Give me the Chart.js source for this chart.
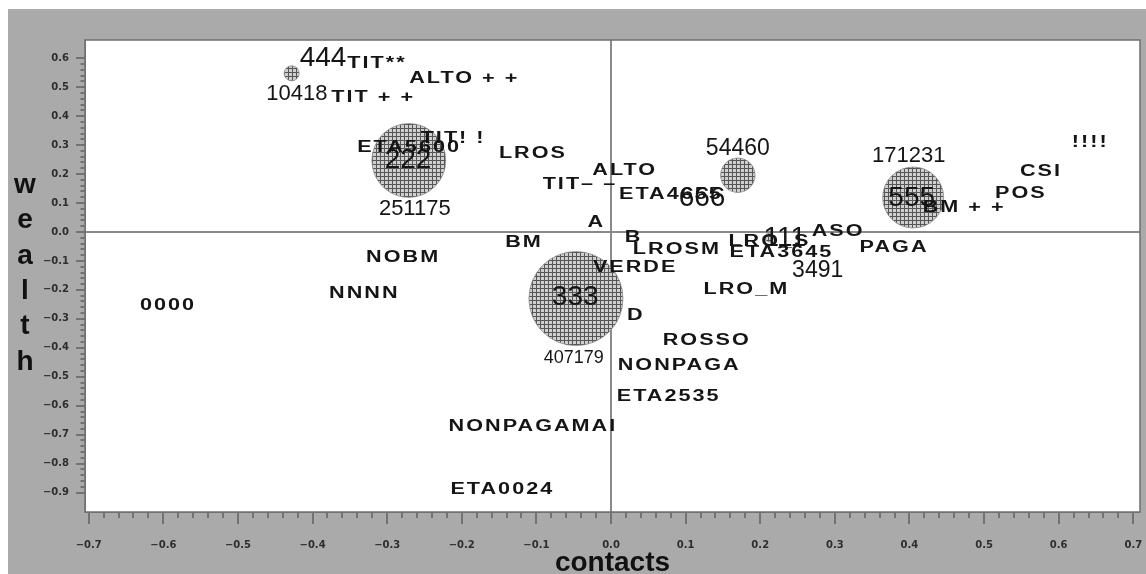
<!DOCTYPE html>
<html>
<head>
<meta charset="utf-8">
<script src="https://cdn.jsdelivr.net/npm/chart.js@4.4.1/dist/chart.umd.min.js"></script>
<style>
html,body{margin:0;padding:0;background:#fff;overflow:hidden}
#wrap{width:1146px;height:574px;position:relative}
</style>
</head>
<body>
<div id="wrap"><canvas id="c" width="1146" height="574"></canvas></div>
<script>
// ---------------- data ----------------
const catLabels = ['TIT**','ALTO + +','TIT + +','ETA5600','TIT! !','LROS','ALTO','TIT\u2013 \u2013','ETA4655','A','B','BM','NOBM','NNNN','0000','LROSM','LRO_S','ETA3645','ASO','VERDE','LRO_M','PAGA','BM + +','POS','CSI','!!!!','D','ROSSO','NONPAGA','ETA2535','NONPAGAMAI','ETA0024'];
const catX = [-0.315,-0.198,-0.320,-0.272,-0.213,-0.106,0.017,-0.043,0.079,-0.021,0.029,-0.118,-0.280,-0.332,-0.595,0.087,0.211,0.227,0.303,0.031,0.180,0.378,0.472,0.548,0.575,0.641,0.032,0.127,0.090,0.076,-0.106,-0.147];
const catY = [0.583,0.528,0.465,0.292,0.324,0.272,0.213,0.164,0.130,0.033,-0.019,-0.036,-0.088,-0.213,-0.254,-0.061,-0.033,-0.071,0.002,-0.123,-0.199,-0.054,0.085,0.133,0.209,0.310,-0.289,-0.375,-0.462,-0.569,-0.673,-0.891];

const groupLabels = ['444','222','333','555','666','111'];
const groupX = [-0.386,-0.272,-0.048,0.403,0.122,0.233];
const groupY = [0.600,0.247,-0.227,0.116,0.116,-0.022];

const freqValues = [10418,251175,407179,171231,54460,3491];
const bubbleX = [-0.428,-0.271,-0.047,0.405,0.170,0.212];
const bubbleY = [0.548,0.247,-0.230,0.119,0.196,-0.019];
const freqLabelX = [-0.421,-0.263,-0.050,0.399,0.170,0.277];
const freqLabelY = [0.476,0.078,-0.434,0.261,0.289,-0.133];

const xTickValues = [-0.7,-0.6,-0.5,-0.4,-0.3,-0.2,-0.1,0,0.1,0.2,0.3,0.4,0.5,0.6,0.7];
const xTickLabels = ['\u22120.7','\u22120.6','\u22120.5','\u22120.4','\u22120.3','\u22120.2','\u22120.1','0.0','0.1','0.2','0.3','0.4','0.5','0.6','0.7'];
const yTickValues = [0.6,0.5,0.4,0.3,0.2,0.1,0,-0.1,-0.2,-0.3,-0.4,-0.5,-0.6,-0.7,-0.8,-0.9];
const yTickLabels = ['0.6','0.5','0.4','0.3','0.2','0.1','0.0','\u22120.1','\u22120.2','\u22120.3','\u22120.4','\u22120.5','\u22120.6','\u22120.7','\u22120.8','\u22120.9'];

const xTitle = 'contacts';
const yTitle = 'wealth';

// ---------------- helpers ----------------
function isMajor(v){ return Math.abs(v*10 - Math.round(v*10)) < 1e-6; }
function labelFor(v, vals, labs){
  for (let i=0;i<vals.length;i++){ if (Math.abs(vals[i]-v) < 1e-6) return labs[i]; }
  return '';
}
function buildTicks(from, to){ // minor ticks every 0.02 between the major ticks
  const out = [];
  for (let i=Math.round(from*50); i<=Math.round(to*50); i++) out.push({value: Math.round(i*2)/100});
  return out;
}
function hatchPattern(){
  const c = document.createElement('canvas'); c.width = 4; c.height = 4;
  const g = c.getContext('2d');
  g.fillStyle = '#cfcfcf'; g.fillRect(0,0,4,4);
  g.fillStyle = '#555555'; g.fillRect(0,0,4,1); g.fillRect(0,0,1,4);
  return g.createPattern(c,'repeat');
}

const TICK_FONT = {family:'"DejaVu Sans", sans-serif', size:10, weight:'bold'};

const bgPlugin = {
  id:'bg',
  beforeDraw(chart){
    const {ctx, chartArea:a, width, height} = chart;
    ctx.save();
    ctx.fillStyle = '#ffffff'; ctx.fillRect(0,0,width,height);
    ctx.fillStyle = '#aaaaaa'; ctx.fillRect(8,9,width-8,height-9);
    ctx.fillStyle = '#ffffff'; ctx.fillRect(a.left,a.top,a.right-a.left,a.bottom-a.top);
    ctx.restore();
  },
  afterDraw(chart){
    const {ctx, chartArea:a} = chart;
    ctx.save();
    ctx.strokeStyle = '#6f6f6f'; ctx.lineWidth = 1.5;
    ctx.strokeRect(a.left,a.top,a.right-a.left,a.bottom-a.top);
    // stacked y-axis title
    ctx.fillStyle = '#111';
    ctx.font = 'bold 28px "Liberation Sans", Arial, sans-serif';
    ctx.textAlign = 'center'; ctx.textBaseline = 'middle';
    const letters = yTitle.split('');
    const step = 35.4;
    const mid = (a.top + a.bottom)/2 - 2.5;
    letters.forEach((ch,i)=>{
      ctx.fillText(ch, 25, mid + (i - (letters.length-1)/2)*step);
    });
    ctx.restore();
  }
};

const textPlugin = {
  id:'textLabels',
  afterDatasetsDraw(chart){
    const ctx = chart.ctx;
    chart.data.datasets.forEach((ds,i)=>{
      if (!ds.textLabels) return;
      const meta = chart.getDatasetMeta(i);
      const st = ds.textStyle;
      meta.data.forEach((el,j)=>{
        const txt = ds.textLabels[j];
        ctx.save();
        ctx.translate(el.x, el.y);
        ctx.scale(st.stretch, 1);
        const size = Array.isArray(st.size) ? st.size[j] : st.size;
        ctx.font = st.weight + ' ' + size + 'px "Liberation Sans", Arial, sans-serif';
        ctx.fillStyle = st.color;
        ctx.textAlign = 'left'; ctx.textBaseline = 'middle';
        try { ctx.letterSpacing = st.spacing + 'px'; } catch(e){}
        const w = ctx.measureText(txt).width - st.spacing;
        ctx.fillText(txt, -w/2, 0);
        ctx.restore();
      });
    });
  }
};

const pattern = hatchPattern();

const bubbleData = freqValues.map((f,i)=>({x:bubbleX[i], y:bubbleY[i], r:0.0737*Math.sqrt(f)}));
const catData = catLabels.map((_,i)=>({x:catX[i], y:catY[i], r:0}));
const groupData = groupLabels.map((_,i)=>({x:groupX[i], y:groupY[i], r:0}));
const freqLabelData = freqValues.map((_,i)=>({x:freqLabelX[i], y:freqLabelY[i], r:0}));

const gridCommon = (tickLen, minorDash) => ({
  drawOnChartArea: true,
  color: c => (c.tick && Math.abs(c.tick.value) < 1e-9) ? '#8a8a8a' : 'rgba(0,0,0,0)',
  lineWidth: c => (c.tick && Math.abs(c.tick.value) < 1e-9) ? 2 : 0,
  tickLength: tickLen,
  tickColor: '#3a3a3a',
  tickWidth: 1,
  tickBorderDash: c => (c.tick && !isMajor(c.tick.value)) ? minorDash : []
});

new Chart(document.getElementById('c'), {
  type:'bubble',
  data:{
    datasets:[
      {label:'freq', data:bubbleData, backgroundColor:pattern, borderColor:'#8a8a8a', borderWidth:0.8},
      {label:'categories', data:catData, backgroundColor:'rgba(0,0,0,0)', borderWidth:0,
        textLabels:catLabels, textStyle:{weight:'bold', size:16, stretch:1.35, spacing:1.5, color:'#151515'}},
      {label:'groups', data:groupData, backgroundColor:'rgba(0,0,0,0)', borderWidth:0,
        textLabels:groupLabels, textStyle:{weight:'normal', size:28, stretch:1, spacing:0, color:'#151515'}},
      {label:'frequencies', data:freqLabelData, backgroundColor:'rgba(0,0,0,0)', borderWidth:0,
        textLabels:freqValues.map(String), textStyle:{weight:'normal', size:[22,22,18,22,23,23], stretch:1, spacing:0, color:'#151515'}}
    ]
  },
  options:{
    responsive:false,
    animation:false,
    devicePixelRatio:1,
    events:[],
    layout:{autoPadding:false, padding:{top:40,right:6,left:0,bottom:0}},
    plugins:{legend:{display:false}, tooltip:{enabled:false}},
    scales:{
      x:{
        type:'linear', position:'bottom', min:-0.705, max:0.709,
        afterBuildTicks: s => { s.ticks = buildTicks(-0.7, 0.7); },
        afterFit: s => { s.height = 62; s.paddingLeft = 0; s.paddingRight = 0; },
        ticks:{autoSkip:false, maxRotation:0, padding:15, font:TICK_FONT, color:'#2e2e2e',
          callback: v => labelFor(v, xTickValues, xTickLabels)},
        grid: gridCommon(12, [5,100]),
        border:{display:true, color:'#777', width:1},
        title:{display:true, text:xTitle, color:'#111', font:{family:'"Liberation Sans", Arial, sans-serif', size:28, weight:'bold'}, padding:{top:0,bottom:-6}}
      },
      y:{
        type:'linear', position:'left', min:-0.967, max:0.663,
        afterBuildTicks: s => { s.ticks = buildTicks(-0.9, 0.6); },
        afterFit: s => { s.width = 85; s.paddingTop = 0; s.paddingBottom = 0; },
        ticks:{autoSkip:false, padding:7, font:TICK_FONT, color:'#2e2e2e',
          callback: v => labelFor(v, yTickValues, yTickLabels)},
        grid: gridCommon(9, [0,4.5,4,100]),
        border:{display:true, color:'#777', width:1}
      }
    }
  },
  plugins:[bgPlugin, textPlugin]
});
</script>
</body>
</html>
